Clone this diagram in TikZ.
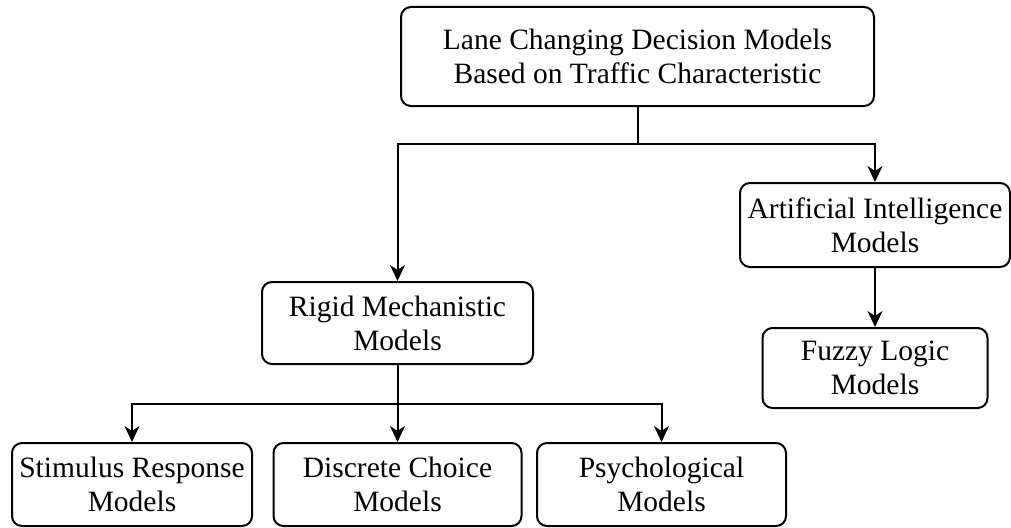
\documentclass[tikz,border=0pt]{standalone}
\usepackage{fontspec}
\setmainfont{Liberation Serif}
\usetikzlibrary{arrows.meta}
\begin{document}
\begin{tikzpicture}[x=1pt,y=-1pt,
  box/.style={draw, line width=2pt, rounded corners=10pt, align=center,
    inner sep=0pt, font=\fontsize{29.5}{34}\selectfont},
  conn/.style={line width=2pt},
  arr/.style={conn, -{Stealth[length=16pt,width=15pt,inset=5pt]}}]
\useasboundingbox (0,0) rectangle (1011,527);
\node[box, minimum width=473pt, minimum height=99pt] (top) at (637.5,56.5) {Lane Changing Decision Models\\Based on Traffic Characteristic};
\node[box, minimum width=270pt, minimum height=84pt] (ai) at (875,225) {Artificial Intelligence\\Models};
\node[box, minimum width=225pt, minimum height=80pt] (fuzzy) at (875,368) {Fuzzy Logic\\Models};
\node[box, minimum width=271pt, minimum height=82pt] (rigid) at (397.5,323) {Rigid Mechanistic\\Models};
\node[box, minimum width=240pt, minimum height=83pt] (stim) at (132,484.5) {Stimulus Response\\Models};
\node[box, minimum width=248pt, minimum height=83pt] (disc) at (397.5,484.5) {Discrete Choice\\Models};
\node[box, minimum width=249pt, minimum height=83pt] (psych) at (661.5,484.5) {Psychological\\Models};
\coordinate (j1) at (637.5,144);
\coordinate (j2) at (397.5,404);
\draw[conn] (top.south) -- (j1);
\draw[arr] (j1) -| (rigid.north);
\draw[arr] (j1) -| (ai.north);
\draw[arr] (ai.south) -- (fuzzy.north);
\draw[conn] (rigid.south) -- (j2);
\draw[arr] (j2) -| (stim.north);
\draw[arr] (j2) -- (disc.north);
\draw[arr] (j2) -| (psych.north);
\end{tikzpicture}
\end{document}
